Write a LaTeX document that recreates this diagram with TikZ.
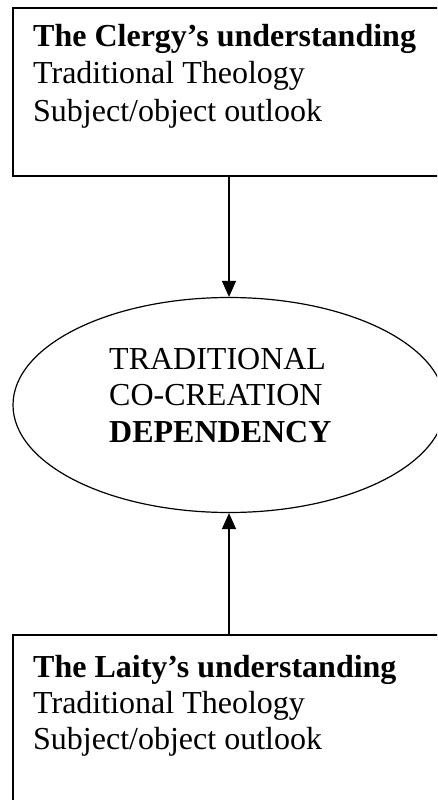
\documentclass[tikz,border=0pt]{standalone}
\usepackage{fontspec}
\setmainfont{Liberation Serif}
\usetikzlibrary{arrows.meta,shapes.geometric}
\tikzset{
  boxstyle/.style={draw, line width=1.6pt, rectangle, inner sep=0pt},
  ellstyle/.style={draw, line width=1.2pt, ellipse, inner sep=0pt, minimum width=432pt, minimum height=215pt},
  txt/.style={anchor=base west, inner sep=0pt, font=\fontsize{32}{38}\selectfont},
  conn/.style={line width=1.3pt, -{Triangle[length=16pt,width=14pt]}}
}
\begin{document}
\begin{tikzpicture}[x=1pt,y=-1pt]
\useasboundingbox (0,0) rectangle (437,800);
\clip (0,0) rectangle (437,800);
\node[boxstyle, minimum width=440pt, minimum height=168pt] (top) at (233,92) {};
\node[boxstyle, minimum width=440pt, minimum height=200pt] (bot) at (233,735) {};
\node[ellstyle] (ell) at (229,405) {};
\node[txt] (t1) at (33,47) {\textbf{The Clergy’s understanding}};
\node[txt] (t2) at (33,84) {Traditional Theology};
\node[txt] (t3) at (33,121) {Subject/object outlook};
\node[txt] (e1) at (109,369) {TRADITIONAL};
\node[txt] (e2) at (109,405) {CO-CREATION};
\node[txt] (e3) at (109,442) {\textbf{DEPENDENCY}};
\node[txt] (b1) at (33,677) {\textbf{The Laity’s understanding}};
\node[txt] (b2) at (33,713) {Traditional Theology};
\node[txt] (b3) at (33,749) {Subject/object outlook};
\draw[conn] (ell.north |- top.south) -- (ell.north);
\draw[conn] (ell.south |- bot.north) -- (ell.south);
\end{tikzpicture}
\end{document}
